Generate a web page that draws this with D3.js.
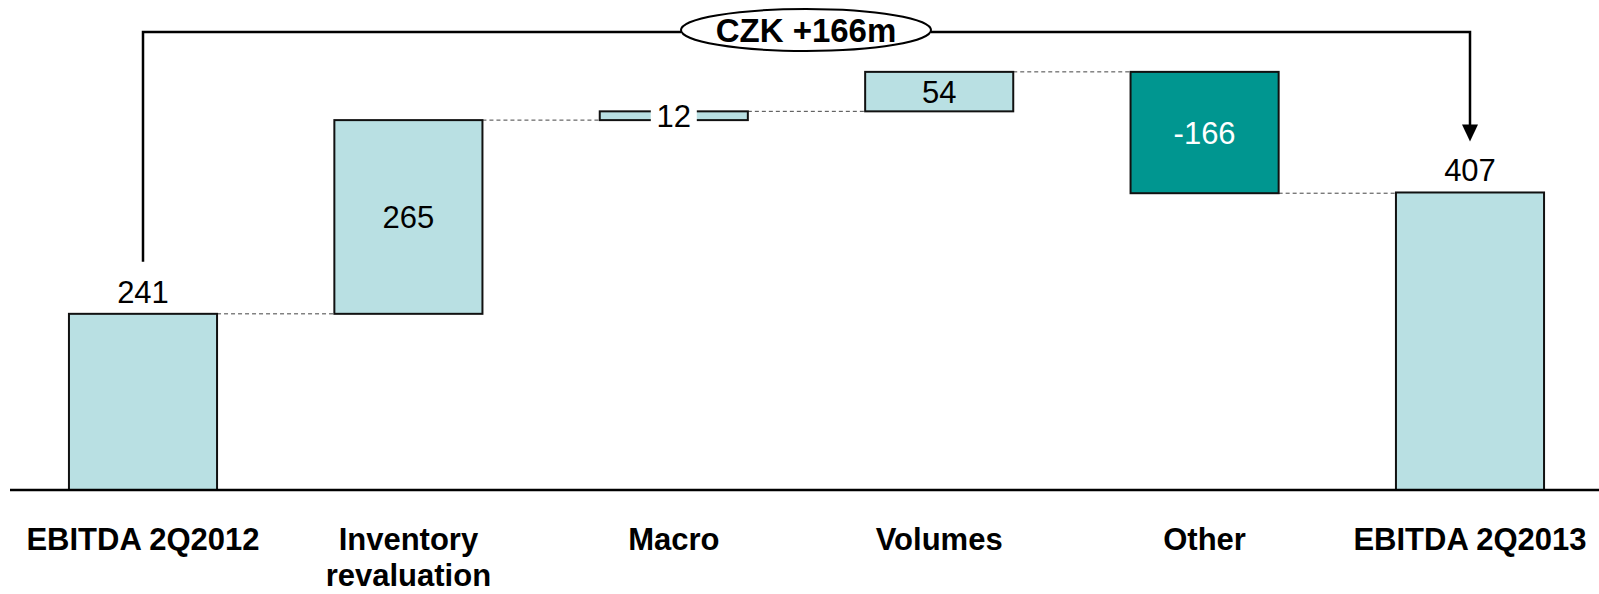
<!DOCTYPE html>
<html>
<head>
<meta charset="utf-8">
<script src="https://cdn.jsdelivr.net/npm/d3@7"></script>
<style>
  html, body { margin: 0; padding: 0; background: #ffffff; }
  svg { display: block; font-family: "Liberation Sans", Arial, sans-serif; }
</style>
</head>
<body>
<svg id="chart" width="1599" height="594"></svg>
<script>
// EBITDA bridge, CZK m
const categories = ["EBITDA 2Q2012", "Inventory revaluation", "Macro", "Volumes", "Other", "EBITDA 2Q2013"];
const categoryLines = [["EBITDA 2Q2012"], ["Inventory", "revaluation"], ["Macro"], ["Volumes"], ["Other"], ["EBITDA 2Q2013"]];
const kinds = ["total", "delta", "delta", "delta", "delta", "total"];
const values = [241, 265, 12, 54, -166, 407];
const valueLabels = ["241", "265", "12", "54", "-166", "407"];
const changeLabel = "CZK +166m";

const W = 1599, H = 594;
const svg = d3.select("#chart");

const x = d3.scaleBand()
  .domain(categories)
  .range([10.3, 1602.7])
  .paddingInner(0.442)
  .paddingOuter(0.221);

const y = d3.scaleLinear().domain([0, 600]).range([490, 51.4]);

const colLight = "#b9e0e3";
const colDark = "#009690";

// build waterfall segments
let running = 0;
const bars = categories.map((c, i) => {
  let lo, hi, end;
  if (kinds[i] === "total") {
    lo = 0; hi = values[i]; end = values[i];
  } else {
    const start = running;
    end = running + values[i];
    lo = Math.min(start, end); hi = Math.max(start, end);
  }
  running = end;
  return { c, i, lo, hi, end, v: values[i], label: valueLabels[i], kind: kinds[i] };
});

// dashed connectors between consecutive bars
const conn = svg.append("g");
for (let i = 0; i < bars.length - 1; i++) {
  const level = bars[i].end;
  conn.append("line")
    .attr("x1", x(bars[i].c) + x.bandwidth())
    .attr("x2", x(bars[i + 1].c))
    .attr("y1", y(level)).attr("y2", y(level))
    .attr("stroke", "#444").attr("stroke-width", 1)
    .attr("stroke-dasharray", "4,3");
}

// bars
svg.append("g").selectAll("rect")
  .data(bars).join("rect")
  .attr("x", d => x(d.c))
  .attr("width", x.bandwidth())
  .attr("y", d => y(d.hi))
  .attr("height", d => y(d.lo) - y(d.hi))
  .attr("fill", d => d.v < 0 ? colDark : colLight)
  .attr("stroke", "#111")
  .attr("stroke-width", 2);

// baseline
svg.append("line")
  .attr("x1", 10).attr("x2", W)
  .attr("y1", y(0)).attr("y2", y(0))
  .attr("stroke", "#000").attr("stroke-width", 2.5);

// value labels
const lab = svg.append("g").attr("font-size", 31);
bars.forEach(d => {
  const cx = x(d.c) + x.bandwidth() / 2;
  if (d.kind === "total") {
    lab.append("text")
      .attr("x", cx).attr("y", y(d.hi) - 11)
      .attr("text-anchor", "middle").attr("fill", "#000")
      .text(d.label);
  } else {
    const cy = (y(d.lo) + y(d.hi)) / 2;
    const thin = (y(d.lo) - y(d.hi)) < 24;
    if (thin) {
      lab.append("rect")
        .attr("x", cx - 23).attr("width", 46)
        .attr("y", cy - 8).attr("height", 16)
        .attr("fill", "#fff");
    }
    lab.append("text")
      .attr("x", cx).attr("y", cy)
      .attr("dy", "0.36em")
      .attr("text-anchor", "middle")
      .attr("fill", d.v < 0 ? "#fff" : "#000")
      .text(d.label);
  }
});

// category labels
const cat = svg.append("g").attr("font-size", 31).attr("font-weight", "bold");
categoryLines.forEach((lines, i) => {
  const t = cat.append("text")
    .attr("x", x(categories[i]) + x.bandwidth() / 2)
    .attr("y", 550)
    .attr("text-anchor", "middle");
  lines.forEach((ln, k) => {
    t.append("tspan")
      .attr("x", x(categories[i]) + x.bandwidth() / 2)
      .attr("dy", k === 0 ? 0 : 36)
      .text(ln);
  });
});

// overall change bracket with arrow
const xs = x(categories[0]) + x.bandwidth() / 2;
const xe = x(categories[5]) + x.bandwidth() / 2;
const yb = 32;
const ex = 806, erx = 125, ery = 21;
const br = svg.append("g").attr("stroke", "#000").attr("stroke-width", 2.5).attr("fill", "none");
br.append("path")
  .attr("d", `M${xs},${y(values[0]) - 52} V${yb} H${ex - erx}`);
br.append("path")
  .attr("d", `M${ex + erx},${yb} H${xe} V${y(values[5]) - 60}`);
svg.append("path")
  .attr("d", `M${xe - 8},${y(values[5]) - 68} L${xe + 8},${y(values[5]) - 68} L${xe},${y(values[5]) - 51} Z`)
  .attr("fill", "#000");
svg.append("ellipse")
  .attr("cx", ex).attr("cy", yb - 2)
  .attr("rx", erx).attr("ry", ery)
  .attr("fill", "#fff").attr("stroke", "#000").attr("stroke-width", 2);
svg.append("text")
  .attr("x", ex).attr("y", yb - 2).attr("dy", "0.36em")
  .attr("text-anchor", "middle")
  .attr("font-size", 33).attr("font-weight", "bold")
  .text(changeLabel);
</script>
</body>
</html>
